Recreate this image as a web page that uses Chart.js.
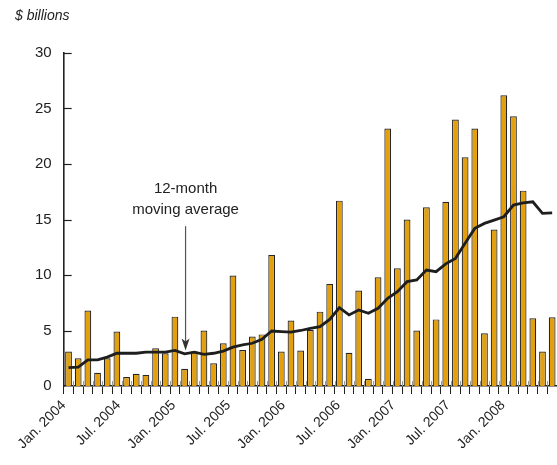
<!DOCTYPE html>
<html>
<head>
<meta charset="utf-8">
<script src="https://cdn.jsdelivr.net/npm/chart.js@4"></script>
<style>
  html, body { margin: 0; padding: 0; background: #fff; }
  #wrap { width: 557px; height: 465px; position: relative; }
</style>
</head>
<body>
<div id="wrap"><canvas id="chart"></canvas></div>
<script>
// monthly values, Jan 2004 - Mar 2008 ($ billions)
const monthlyValues = [
  3.1, 2.5, 6.8, 1.2, 2.5, 4.9, 0.8, 1.1, 1.0, 3.4, 2.95, 6.25,
  1.55, 3.1, 5.0, 2.05, 3.85, 9.95, 3.25, 4.45, 4.65, 11.8, 3.1, 5.9,
  3.2, 5.05, 6.7, 9.2, 16.7, 3.0, 8.6, 0.65, 9.8, 23.2, 10.6, 15.0,
  5.0, 16.1, 6.0, 16.6, 24.0, 20.6, 23.2, 4.75, 14.1, 26.2, 24.3, 17.6,
  6.1, 3.1, 6.2
];

// 12-month moving average
const movingAverage = [
  1.65, 1.7, 2.35, 2.35, 2.6, 2.95, 2.95, 2.95, 3.05, 3.05, 3.05, 3.2,
  2.9, 3.05, 2.85, 2.95, 3.15, 3.5, 3.7, 3.85, 4.2, 4.95, 4.9, 4.85,
  5.0, 5.2, 5.35, 6.0, 7.05, 6.4, 6.85, 6.55, 7.0, 7.9, 8.5, 9.4,
  9.55, 10.45, 10.3, 11.0, 11.5, 12.85, 14.2, 14.65, 14.95, 15.25, 16.3, 16.5,
  16.6, 15.55, 15.6
];

const tickLabels = ['Jan. 2004', 'Jul. 2004', 'Jan. 2005', 'Jul. 2005', 'Jan. 2006',
  'Jul. 2006', 'Jan. 2007', 'Jul. 2007', 'Jan. 2008'];
const yTicks = [0, 5, 10, 15, 20, 25, 30];

// category per month
const monthNames = ['Jan.', 'Feb.', 'Mar.', 'Apr.', 'May', 'Jun.', 'Jul.', 'Aug.', 'Sep.', 'Oct.', 'Nov.', 'Dec.'];
const categories = monthlyValues.map((v, i) => monthNames[i % 12] + ' ' + (2004 + Math.floor(i / 12)));

const FONT = '"Liberation Sans", Arial, sans-serif';
const INK = '#222';

// extra drawing: units label, inward ticks, annotation arrow
const extras = {
  id: 'extras',
  afterDraw(chart) {
    const { ctx, chartArea } = chart;
    const x = chart.scales.x;
    const y = chart.scales.y;
    ctx.save();

    ctx.fillStyle = INK;
    ctx.font = 'italic 14px ' + FONT;
    ctx.textAlign = 'left';
    ctx.textBaseline = 'middle';
    ctx.fillText('$ billions', 15, 16);

    // inward ticks on y axis
    ctx.strokeStyle = INK;
    ctx.lineWidth = 1.2;
    yTicks.forEach(v => {
      if (v === 0) return;
      const py = Math.round(y.getPixelForValue(v)) + 0.5;
      ctx.beginPath();
      ctx.moveTo(chartArea.left, py);
      ctx.lineTo(chartArea.left + 8, py);
      ctx.stroke();
    });

    // small grey marks above baseline between bars
    ctx.strokeStyle = '#999';
    ctx.lineWidth = 1;
    for (let i = 1; i < categories.length; i++) {
      const px = Math.round(x.getPixelForValue(i - 0.5)) + 0.5;
      ctx.beginPath();
      ctx.moveTo(px, chartArea.bottom);
      ctx.lineTo(px, chartArea.bottom - 5);
      ctx.stroke();
    }

    // annotation
    const ax = x.getPixelForValue(12.1);
    ctx.fillStyle = INK;
    ctx.font = '15px ' + FONT;
    ctx.textAlign = 'center';
    ctx.fillText('12-month', ax, y.getPixelForValue(17.8));
    ctx.fillText('moving average', ax, y.getPixelForValue(15.9));

    const top = y.getPixelForValue(14.4);
    const tip = y.getPixelForValue(3.2);
    ctx.strokeStyle = '#555';
    ctx.lineWidth = 1.2;
    ctx.beginPath();
    ctx.moveTo(ax, top);
    ctx.lineTo(ax, tip - 8);
    ctx.stroke();
    ctx.fillStyle = '#333';
    ctx.beginPath();
    ctx.moveTo(ax, tip);
    ctx.lineTo(ax - 4, tip - 12);
    ctx.lineTo(ax, tip - 9);
    ctx.lineTo(ax + 4, tip - 12);
    ctx.closePath();
    ctx.fill();

    ctx.restore();
  }
};

new Chart(document.getElementById('chart'), {
  data: {
    labels: categories,
    datasets: [
      {
        type: 'line',
        data: movingAverage,
        borderColor: '#1e1e1e',
        borderWidth: 2.8,
        pointRadius: 0,
        tension: 0,
        order: 0
      },
      {
        type: 'bar',
        data: monthlyValues,
        backgroundColor: '#E3A00E',
        borderColor: '#262626',
        borderWidth: 1.2,
        categoryPercentage: 1,
        barPercentage: 0.7,
        order: 1
      }
    ]
  },
  options: {
    responsive: true,
    maintainAspectRatio: false,
    animation: false,
    layout: { padding: { top: 53, right: 0, bottom: 1, left: 23 } },
    plugins: { legend: { display: false }, tooltip: { enabled: false } },
    scales: {
      x: {
        type: 'category',
        offset: true,
        grid: { display: true, offset: true, drawOnChartArea: false, drawTicks: true, tickLength: 8, color: INK, lineWidth: 1 },
        border: { display: true, color: INK, width: 1.6 },
        ticks: { display: false },
        afterFit: scale => { scale.height = 8; }
      },
      x2: {
        type: 'linear',
        position: 'bottom',
        min: 0,
        max: 53.9,
        grid: { display: false, drawTicks: false },
        border: { display: false },
        afterBuildTicks: scale => {
          scale.ticks = tickLabels.map((t, i) => ({ value: i * 6 }));
        },
        afterFit: scale => { scale.height = 70; },
        ticks: {
          autoSkip: false,
          maxRotation: 45,
          minRotation: 45,
          padding: 3,
          color: INK,
          font: { family: FONT, size: 14 },
          callback: (v) => tickLabels[Math.round(v / 6)]
        }
      },
      y: {
        min: 0,
        max: 30,
        afterBuildTicks: scale => {
          scale.ticks = yTicks.map(v => ({ value: v }));
        },
        grid: { display: false, drawTicks: false },
        border: { display: true, color: INK, width: 1.6 },
        ticks: { padding: 12, color: INK, font: { family: FONT, size: 15 } }
      }
    }
  },
  plugins: [extras]
});
</script>
</body>
</html>
